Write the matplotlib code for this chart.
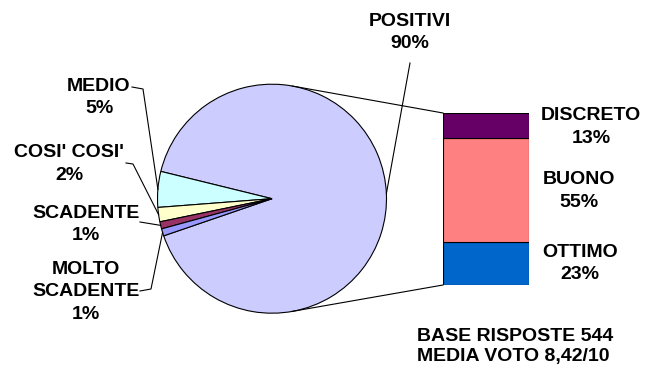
import numpy as np
import matplotlib
matplotlib.use('Agg')
import matplotlib.pyplot as plt

pie_labels = ['POSITIVI', 'MEDIO', "COSI' COSI'", 'SCADENTE', 'MOLTO\nSCADENTE']
pie_values = [90, 5, 2, 1, 1]
pie_colors = ['#CCCCFF', '#CCFFFF', '#FFFFCC', '#993366', '#9999FF']

bar_labels = ['OTTIMO', 'BUONO', 'DISCRETO']
bar_values = [23, 55, 13]
bar_colors = ['#0066CC', '#FF8080', '#660066']

note_lines = ['BASE RISPOSTE 544', 'MEDIA VOTO 8,42/10']

W, H = 645, 370
font = dict(family='Liberation Sans', weight='bold', size=14)

fig = plt.figure(figsize=(W / 100, H / 100), dpi=100)
ax = fig.add_axes([0, 0, 1, 1])

# pie drawn in pixel units, y pointing up
cx, cy, r = 272, H - 198.7, 114.5
start = 166.2 - 360 * pie_values[0] / sum(pie_values)
wedges, _ = ax.pie(pie_values, colors=pie_colors, startangle=start,
                   center=(cx, cy), radius=r, counterclock=True,
                   wedgeprops=dict(edgecolor='black', linewidth=0.8))
ax.set_xlim(0, W)
ax.set_ylim(0, H)
ax.set_aspect('auto')
ax.axis('off')

# stacked bar for the breakdown of POSITIVI
bx0, by0, bw, bh = 443, 85, 86, 172
bax = fig.add_axes([bx0 / W, by0 / H, bw / W, bh / H])
bottom = 0
for lab, val, col in zip(bar_labels, bar_values, bar_colors):
    bax.bar(0, val, width=1, bottom=bottom, color=col, edgecolor='black', linewidth=0.8)
    bottom += val
bax.set_xlim(-0.5, 0.5)
bax.set_ylim(0, sum(bar_values))
bax.axis('off')


# connector lines: tangent from bar corners to the pie
def tangent_point(px, py, upper):
    dx, dy = px - cx, py - cy
    d = np.hypot(dx, dy)
    base = np.arctan2(dy, dx)
    off = np.arccos(r / d)
    a = base + off if upper else base - off
    return cx + r * np.cos(a), cy + r * np.sin(a)


for corner_y, upper in [(by0 + bh, True), (by0, False)]:
    tx, ty = tangent_point(bx0, corner_y, upper)
    ax.plot([tx, bx0], [ty, corner_y], color='black', lw=0.8)


def edge_point(w):
    a = np.radians((w.theta1 + w.theta2) / 2)
    return cx + r * np.cos(a), cy + r * np.sin(a)


# label centres and leader line start points (pixel coords, y down)
label_pos = [(410, 32.5), (99, 97.5), (69, 164), (86, 224.5), (86, 292)]
leader_pts = [
    [(410, 63)],
    [(132, 87), (143, 89)],
    [(126, 163), (133, 164)],
    [(140, 222)],
    [(140, 291), (151, 289)],
]

for w, lab, val, (lx, ly), pts in zip(wedges, pie_labels, pie_values, label_pos, leader_pts):
    ax.text(lx, H - ly, f'{lab}\n{val}%', ha='center', va='center',
            linespacing=1.40, **font)
    ex, ey = edge_point(w)
    xs = [p[0] for p in pts] + [ex]
    ys = [H - p[1] for p in pts] + [ey]
    ax.plot(xs, ys, color='black', lw=0.8)

bar_label_pos = [(580, 263.5), (579, 191), (591, 127)]
for lab, val, (lx, ly) in zip(bar_labels, bar_values, bar_label_pos):
    ax.text(lx, H - ly, f'{lab}\n{val}%', ha='center', va='center',
            linespacing=1.40, **font)

ax.text(417, H - 346.5, '\n'.join(note_lines), ha='left', va='center',
        linespacing=1.23, **font)

fig.savefig('out.png', dpi=100)
